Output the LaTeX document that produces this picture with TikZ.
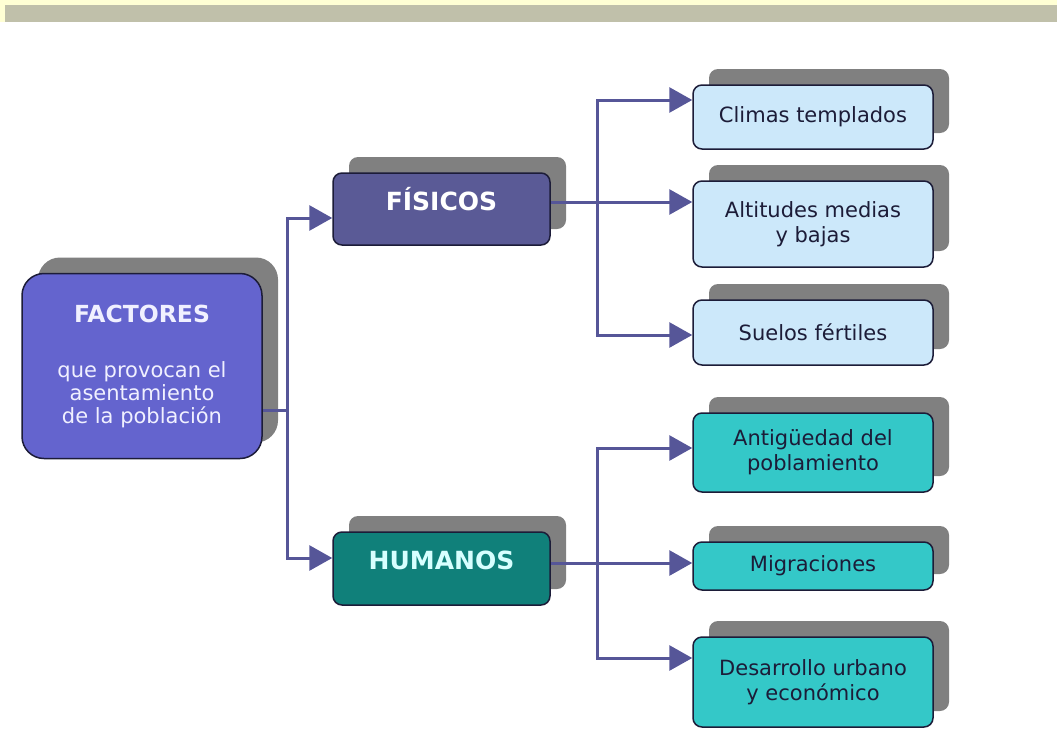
\documentclass[tikz,border=0pt]{standalone}
\usepackage{fontspec}
\setmainfont{DejaVu Sans}
\usepackage{tikz}
\usetikzlibrary{arrows.meta}
\usetikzlibrary{shadows}

\definecolor{moradoF}{RGB}{100,100,206}
\definecolor{pizarra}{RGB}{90,90,150}
\definecolor{verdeH}{RGB}{16,128,122}
\definecolor{celeste}{RGB}{204,232,250}
\definecolor{turquesa}{RGB}{52,200,200}
\definecolor{sombra}{RGB}{128,128,128}
\definecolor{colLinea}{RGB}{86,86,152}
\definecolor{borde}{RGB}{28,28,56}
\definecolor{amarillo}{RGB}{255,255,212}
\definecolor{caqui}{RGB}{192,192,170}

\tikzset{
  caja/.style={draw=borde, line width=1.5pt, rounded corners=9pt, inner sep=0pt, align=center,
    general shadow={fill=sombra, shadow xshift=16pt, shadow yshift=16pt}},
  cajader/.style={caja, minimum width=240pt, text=borde, font=\fontsize{21}{25}\selectfont},
  conector/.style={draw=colLinea, line width=3pt},
  flecha/.style={conector, -{Triangle[length=23pt,width=25pt]}}
}

\begin{document}
\begin{tikzpicture}[x=1pt,y=-1pt]
\useasboundingbox (0,0) rectangle (1057,744);

\fill[amarillo] (0,0) rectangle (1057,22);
\fill[caqui] (5,5) rectangle (1057,22);

\node[caja, fill=moradoF, rounded corners=22pt, minimum width=240pt, minimum height=185pt,
  text={rgb,255:red,240;green,240;blue,255}, font=\fontsize{21}{23}\selectfont]
  (factores) at (142,366) {{\bfseries\fontsize{23.5}{23}\selectfont FACTORES}\\[32pt]que provocan el\\asentamiento\\de la población};

\node[caja, fill=pizarra, minimum width=217pt, minimum height=72pt, text=white,
  font=\bfseries\fontsize{25}{28}\selectfont, text height=17pt, text depth=15pt]
  (fisicos) at (441.5,209) {FÍSICOS};
\node[caja, fill=verdeH, minimum width=217pt, minimum height=73pt,
  text={rgb,255:red,215;green,255;blue,255},
  font=\bfseries\fontsize{25}{28}\selectfont, text height=17pt, text depth=15pt]
  (humanos) at (441.5,568.5) {HUMANOS};

\foreach \n/\y/\h/\c/\t in {climas/117/64/celeste/{Climas templados},
  altitudes/224/86/celeste/{Altitudes medias\\y bajas},
  suelos/332.5/65/celeste/{Suelos fértiles},
  antiguedad/452.5/79/turquesa/{Antigüedad del\\poblamiento},
  migraciones/566/48/turquesa/{Migraciones},
  desarrollo/682/90/turquesa/{Desarrollo urbano\\y económico}}
{
  \node[cajader, fill=\c, minimum height=\h pt] (\n) at (813,\y) {\t};
}

\coordinate (bus1) at (287,410);
\coordinate (bus2) at (597,202);
\coordinate (bus3) at (597,563);

\draw[conector] (factores.east |- bus1) -- (bus1);
\draw[flecha] (bus1) |- ([yshift=-9pt]fisicos.west);
\draw[flecha] (bus1) |- ([yshift=10.5pt]humanos.west);

\draw[conector] (fisicos.east |- bus2) -- (bus2);
\draw[flecha] (bus2) |- ([yshift=17pt]climas.west);
\draw[flecha] (bus2) -- (altitudes.west |- bus2);
\draw[flecha] (bus2) |- ([yshift=-2.5pt]suelos.west);

\draw[conector] (humanos.east |- bus3) -- (bus3);
\draw[flecha] (bus3) |- ([yshift=4.5pt]antiguedad.west);
\draw[flecha] (bus3) -- (migraciones.west |- bus3);
\draw[flecha] (bus3) |- ([yshift=24pt]desarrollo.west);

\end{tikzpicture}
\end{document}
